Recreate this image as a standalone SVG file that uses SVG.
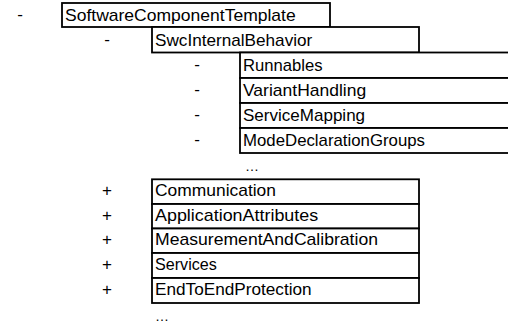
<svg xmlns="http://www.w3.org/2000/svg" width="508" height="329" viewBox="0 0 508 329">
<style>
text{font-family:"Liberation Sans",Arial,sans-serif;font-size:17px;fill:#000}
.b{fill:#fff;stroke:#000;stroke-width:1.8}
.m{text-anchor:middle}
.d{font-size:14px}
</style>
<rect width="508" height="329" fill="#fff"/>
<g id="connectors"></g>
<g id="n-swct">
<text class="m" x="20" y="20">-</text>
<rect class="b" x="62" y="3" width="268" height="24"/>
<text x="65" y="20.5" textLength="230.7" lengthAdjust="spacingAndGlyphs">SoftwareComponentTemplate</text>
</g>
<g id="n-ib">
<text class="m" x="107" y="45">-</text>
<rect class="b" x="152" y="27" width="267" height="25.5"/>
<text x="155" y="45.5" textLength="157.3" lengthAdjust="spacingAndGlyphs">SwcInternalBehavior</text>
</g>
<g id="n-runnables">
<text class="m" x="197" y="70">-</text>
<rect class="b" x="240" y="52.5" width="280" height="25.5"/>
<text x="243" y="70.5" textLength="79.5" lengthAdjust="spacingAndGlyphs">Runnables</text>
</g>
<g id="n-variant">
<text class="m" x="197" y="95">-</text>
<rect class="b" x="240" y="78" width="280" height="25"/>
<text x="243" y="95.5" textLength="123.2" lengthAdjust="spacingAndGlyphs">VariantHandling</text>
</g>
<g id="n-servicemapping">
<text class="m" x="197" y="120">-</text>
<rect class="b" x="240" y="103" width="280" height="25"/>
<text x="243" y="120.5" textLength="122.1" lengthAdjust="spacingAndGlyphs">ServiceMapping</text>
</g>
<g id="n-mdg">
<text class="m" x="197" y="145">-</text>
<rect class="b" x="240" y="128" width="280" height="25"/>
<text x="243" y="145.5" textLength="182" lengthAdjust="spacingAndGlyphs">ModeDeclarationGroups</text>
</g>
<text class="d" x="245" y="171">…</text>
<g id="n-comm">
<text class="m" x="107" y="196">+</text>
<rect class="b" x="152" y="179.3" width="267" height="24.7"/>
<text x="155" y="196" textLength="121" lengthAdjust="spacingAndGlyphs">Communication</text>
</g>
<g id="n-appattr">
<text class="m" x="107" y="220.5">+</text>
<rect class="b" x="152" y="204" width="267" height="24.5"/>
<text x="155" y="220.5" textLength="163.2" lengthAdjust="spacingAndGlyphs">ApplicationAttributes</text>
</g>
<g id="n-mac">
<text class="m" x="107" y="245">+</text>
<rect class="b" x="152" y="228.5" width="267" height="24.5"/>
<text x="155" y="245" textLength="223" lengthAdjust="spacingAndGlyphs">MeasurementAndCalibration</text>
</g>
<g id="n-services">
<text class="m" x="107" y="270">+</text>
<rect class="b" x="152" y="253" width="267" height="25"/>
<text x="155" y="270" textLength="61.8" lengthAdjust="spacingAndGlyphs">Services</text>
</g>
<g id="n-e2e">
<text class="m" x="107" y="295">+</text>
<rect class="b" x="152" y="278" width="267" height="25"/>
<text x="155" y="295" textLength="156.6" lengthAdjust="spacingAndGlyphs">EndToEndProtection</text>
</g>
<text class="d" x="155" y="321">…</text>
</svg>
